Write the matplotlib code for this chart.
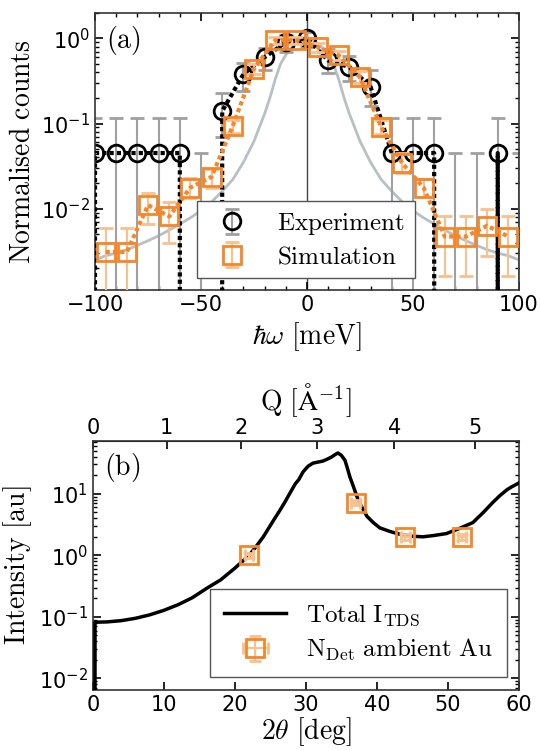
import numpy as np
import matplotlib
matplotlib.use('Agg')
import matplotlib.pyplot as plt
from matplotlib.ticker import MultipleLocator, LogLocator, NullFormatter

# ---------- panel (a): energy spectrum ----------
# experiment (zero counts are drawn clipped at the bottom of the log axis)
exp_x = [-110, -100, -90, -80, -70, -60, -50, -40, -30, -20, -10, 0,
         10, 20, 30, 40, 50, 60, 70, 80, 90, 100]
exp_y = [0, 0.045, 0.045, 0.045, 0.045, 0.045, 0, 0.14, 0.38, 0.6, 0.9, 1.0,
         0.55, 0.46, 0.27, 0.045, 0.045, 0.045, 0, 0, 0.045, 0]
exp_lo = [0, 0, 0, 0, 0, 0, 0, 0.07, 0.24, 0.42, 0.7, 0.8,
          0.39, 0.32, 0.16, 0, 0, 0, 0, 0, 0, 0]
exp_hi = [0.045, 0.116, 0.116, 0.116, 0.116, 0.116, 0.045, 0.226, 0.52, 0.78, 1.1, 1.2,
          0.76, 0.62, 0.42, 0.116, 0.116, 0.116, 0.045, 0.045, 0.116, 0.045]

# simulation
sim_x = [-95, -85, -75, -65, -55, -45, -35, -25, -15, -5,
         5, 15, 25, 35, 45, 55, 65, 75, 85, 95]
sim_y = [0.0031, 0.0031, 0.011, 0.0081, 0.0177, 0.0236, 0.094, 0.44, 0.95, 0.95,
         0.79, 0.63, 0.35, 0.091, 0.034, 0.0177, 0.0047, 0.0047, 0.0063, 0.0047]
sim_lo = [0, 0, 0.0066, 0.004, 0.0135, 0.0177, 0.078, 0.38, 0.85, 0.85,
          0.70, 0.55, 0.30, 0.075, 0.026, 0.0138, 0.0016, 0.0016, 0.0028, 0.0016]
sim_hi = [0.006, 0.006, 0.0154, 0.012, 0.023, 0.029, 0.11, 0.50, 1.05, 1.05,
          0.88, 0.71, 0.41, 0.11, 0.045, 0.022, 0.0081, 0.0081, 0.010, 0.0081]

# grey resolution curve
res_x = [-100, -95, -90, -85, -80, -75, -70, -65, -60, -55, -50, -45, -40, -35, -30,
         -25, -22.5, -20, -17.5, -15, -12.5, -10, -7.5, -5, -2.5, 0,
         2.5, 5, 7.5, 10, 12.5, 15, 17.5, 20, 22.5, 25,
         30, 35, 40, 45, 50, 55, 60, 65, 70, 75, 80, 85, 90, 95, 100]
res_y = [0.0025, 0.0028, 0.003, 0.0033, 0.0037, 0.0042, 0.0048, 0.0056, 0.0066, 0.0078,
         0.0095, 0.012, 0.016, 0.022, 0.035,
         0.062, 0.09, 0.13, 0.2, 0.33, 0.5, 0.64, 0.77, 0.88, 0.97, 1.0,
         0.97, 0.88, 0.77, 0.64, 0.5, 0.33, 0.2, 0.13, 0.09, 0.062,
         0.035, 0.022, 0.016, 0.012, 0.0095, 0.0078, 0.0066, 0.0056, 0.0048, 0.0042,
         0.0037, 0.0033, 0.003, 0.0028, 0.0025]

# ---------- panel (b): angular distribution ----------
tds_x = [0, 0.3, 2, 4, 6, 8, 10, 12, 14, 16, 18, 20, 22, 23, 24, 25.5, 26.3, 27, 28,
         28.5, 29, 29.6, 30.3, 31, 32.4, 33, 33.6, 34, 34.5, 35, 35.5, 35.8, 36.2, 36.7,
         37.2, 37.8, 38.6, 39.5, 40.4, 41.8, 43.2, 44.8, 46.5, 48, 49.8, 51.5, 53.5,
         55, 56.3, 57.3, 58.3, 59, 60]
tds_y = [0, 0.082, 0.083, 0.087, 0.095, 0.108, 0.128, 0.158, 0.205, 0.29, 0.40, 0.62,
         1.0, 1.4, 2.0, 3.8, 5.3, 7.2, 11.5, 14.5, 17, 22.7, 28, 31.5, 34, 36.5, 39.5,
         42.5, 46, 42, 35, 27, 18.7, 13, 8.9, 6.3, 4.3, 3.4, 2.8, 2.45, 2.2, 2.05, 2.0,
         2.1, 2.26, 2.7, 3.4, 5.0, 7.2, 9.3, 11.6, 13, 15]

det_x = [22, 37, 44, 52]
det_y = [1.0, 7.2, 2.0, 2.0]
det_xerr = [0.6, 0.6, 0.6, 0.6]
det_yerr = [0.1, 0.7, 0.2, 0.2]

lam = 1.137  # wavelength [A] for the Q axis

orange = '#f5862a'
lo_err = [y - l for y, l in zip(exp_y, exp_lo)]
hi_err = [h - y for y, h in zip(exp_y, exp_hi)]
slo_err = [y - l for y, l in zip(sim_y, sim_lo)]
shi_err = [h - y for y, h in zip(sim_y, sim_hi)]

fig = plt.figure(figsize=(5.4, 7.5), dpi=100)
ax1 = fig.add_axes([0.176, 0.613, 0.785, 0.370])
ax2 = fig.add_axes([0.172, 0.080, 0.789, 0.332])

# panel (a)
ax1.set_yscale('log')
ax1.plot(res_x, res_y, color='#b9c0c4', lw=2, zorder=1)
ax1.axvline(0, color='#444444', lw=1, zorder=1)
ax1.errorbar(exp_x, exp_y, yerr=[lo_err, hi_err], fmt='o', mfc='none', mec='k',
             mew=2, ms=12, ecolor='#a0a0a0', elinewidth=1.5, capsize=5, capthick=2,
             zorder=2, label=r'$\mathrm{Experiment}$')
ax1.plot(exp_x, exp_y, color='k', lw=3, dashes=(1, 0.75), zorder=3)
ax1.errorbar(sim_x, sim_y, yerr=[slo_err, shi_err], fmt='s', mfc='none', mec=orange,
             mew=2, ms=13, ecolor='#f9c08e', elinewidth=1.5, capsize=5, capthick=2,
             zorder=4, label=r'$\mathrm{Simulation}$')
ax1.plot(sim_x, sim_y, color=orange, lw=3, dashes=(1, 0.75), zorder=5)
ax1.set_xlim(-100, 100)
ax1.set_ylim(1.1e-3, 2.0)
ax1.xaxis.set_major_locator(MultipleLocator(50))
ax1.xaxis.set_minor_locator(MultipleLocator(10))
ax1.yaxis.set_minor_locator(LogLocator(base=10, subs=np.arange(2, 10)))
ax1.yaxis.set_minor_formatter(NullFormatter())
ax1.tick_params(which='both', direction='in', top=True, right=True, labelsize=15)
ax1.tick_params(which='major', length=6, width=1.2)
ax1.tick_params(which='minor', length=3, width=1)
ax1.set_xlabel(r'$\hbar\omega\ [\mathrm{meV}]$', fontsize=20, math_fontfamily='cm')
ax1.set_ylabel(r'$\mathrm{Normalised\ counts}$', fontsize=20, math_fontfamily='cm')
ax1.text(0.025, 0.96, r'$\mathrm{(a)}$', transform=ax1.transAxes, fontsize=20,
         va='top', math_fontfamily='cm')
leg1 = ax1.legend(loc='lower left', bbox_to_anchor=(0.24, 0.043), fontsize=18,
                  frameon=True, fancybox=False, framealpha=1, edgecolor='#555555',
                  handletextpad=0.8, borderpad=0.4, labelspacing=0.3, borderaxespad=0)
for t in leg1.get_texts():
    t.set_math_fontfamily('cm')

# panel (b)
ax2.set_yscale('log')
ax2.plot(tds_x, tds_y, color='k', lw=2.5, zorder=3, label=r'$\mathrm{Total\ I_{TDS}}$')
ax2.errorbar(det_x, det_y, xerr=det_xerr, yerr=det_yerr, fmt='s', mfc='none', mec=orange,
             mew=2, ms=13, ecolor='#f9c08e', elinewidth=1.5, capsize=4, capthick=2,
             zorder=4, label=r'$\mathrm{N_{Det}\ ambient\ Au}$')
ax2.set_xlim(0, 60)
ax2.set_ylim(0.0065, 72)
ax2.xaxis.set_major_locator(MultipleLocator(10))
ax2.yaxis.set_minor_locator(LogLocator(base=10, subs=np.arange(2, 10)))
ax2.yaxis.set_minor_formatter(NullFormatter())
ax2.tick_params(which='both', direction='in', top=False, right=True, labelsize=15)
ax2.tick_params(which='major', length=6, width=1.2)
ax2.tick_params(which='minor', length=3, width=1)
ax2.set_xlabel(r'$2\theta\ [\mathrm{deg}]$', fontsize=20, math_fontfamily='cm', labelpad=0)
ax2.set_ylabel(r'$\mathrm{Intensity\ [au]}$', fontsize=20, math_fontfamily='cm')
ax2.text(0.025, 0.96, r'$\mathrm{(b)}$', transform=ax2.transAxes, fontsize=20,
         va='top', math_fontfamily='cm')


def to_q(tt):
    return 4 * np.pi / lam * np.sin(np.radians(tt) / 2)


def to_tt(q):
    return 2 * np.degrees(np.arcsin(np.clip(q * lam / (4 * np.pi), -1, 1)))


secax = ax2.secondary_xaxis('top', functions=(to_q, to_tt))
secax.set_xticks([0, 1, 2, 3, 4, 5])
secax.tick_params(direction='in', length=6, width=1.2, labelsize=15, pad=2)
secax.set_xlabel(r'$\mathrm{Q}\ [\mathrm{\AA}^{-1}]$', fontsize=20, math_fontfamily='cm',
                 labelpad=6)

leg2 = ax2.legend(loc='lower left', bbox_to_anchor=(0.275, 0.052), fontsize=18,
                  frameon=True, fancybox=False, framealpha=1, edgecolor='#555555',
                  handletextpad=0.8, borderpad=0.55, labelspacing=0.35, borderaxespad=0,
                  handlelength=2.5)
for t in leg2.get_texts():
    t.set_math_fontfamily('cm')

for ax in (ax1, ax2):
    for s in ax.spines.values():
        s.set_linewidth(1.2)
        s.set_color('#333333')

fig.savefig('out.png', dpi=100)
